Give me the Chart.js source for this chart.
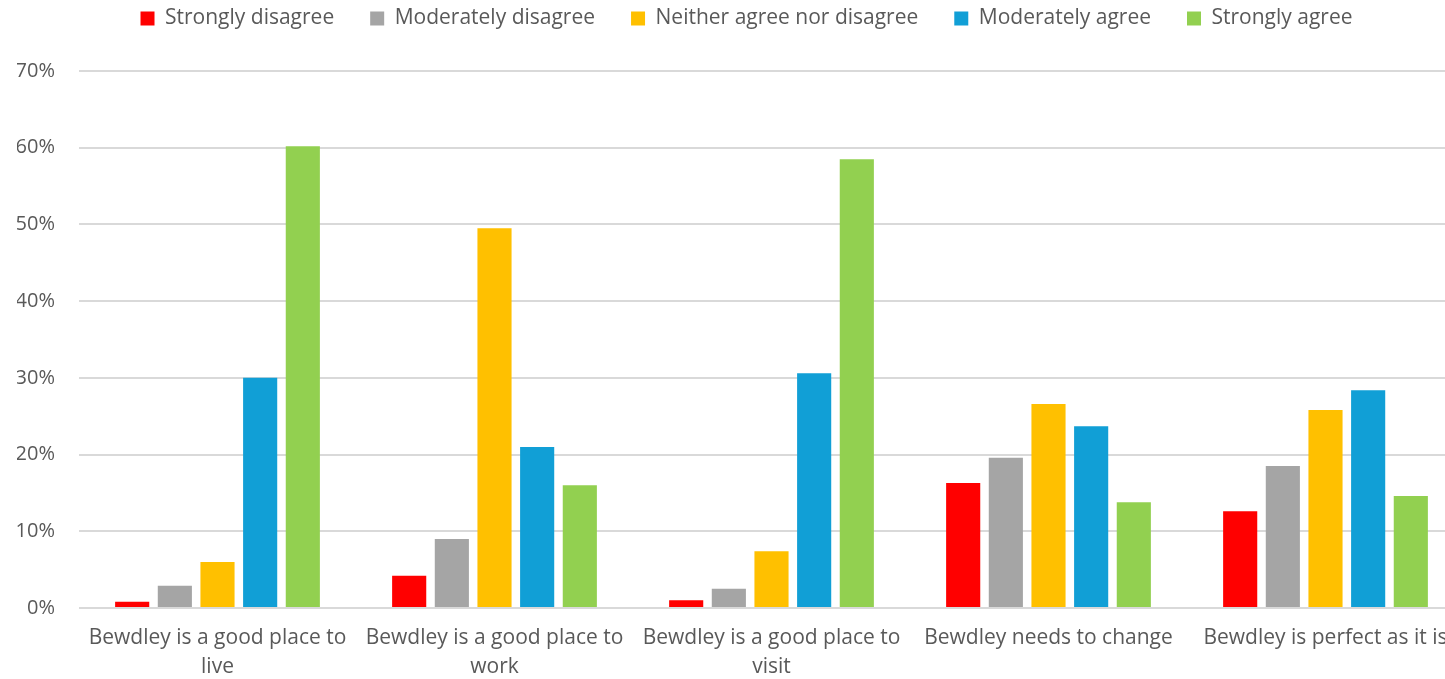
<!DOCTYPE html>
<html>
<head>
<meta charset="utf-8">
<script src="https://cdn.jsdelivr.net/npm/chart.js@4/dist/chart.umd.min.js"></script>
<style>
  html, body { margin: 0; padding: 0; background: #fff; overflow: hidden; }
  #wrap { width: 1464px; height: 679px; position: relative; }
</style>
</head>
<body>
<div id="wrap"><canvas id="c"></canvas></div>
<script>
const categories = [
  ["Bewdley is a good place to", "live"],
  ["Bewdley is a good place to", "work"],
  ["Bewdley is a good place to", "visit"],
  "Bewdley needs to change",
  "Bewdley is perfect as it is"
];
const seriesNames = ["Strongly disagree", "Moderately disagree", "Neither agree nor disagree", "Moderately agree", "Strongly agree"];
const stronglyDisagree   = [0.8, 4.2, 1.0, 16.3, 12.6];
const moderatelyDisagree = [2.9, 9.0, 2.5, 19.6, 18.5];
const neither            = [6.0, 49.5, 7.4, 26.6, 25.8];
const moderatelyAgree    = [30.0, 21.0, 30.6, 23.7, 28.4];
const stronglyAgree      = [60.2, 16.0, 58.5, 13.8, 14.6];
const yTicks = [0, 10, 20, 30, 40, 50, 60, 70];

const colors = ["#FF0000", "#A5A5A5", "#FFC000", "#119FD6", "#92D050"];
const values = [stronglyDisagree, moderatelyDisagree, neither, moderatelyAgree, stronglyAgree];

const legendTweak = {
  id: 'legendTweak',
  beforeInit(chart) {
    const lg = chart.legend;
    const orig = lg.fit;
    lg.fit = function () { orig.call(this); this.height = 99; };
  },
  afterLayout(chart) {
    chart.legend.left += 6;
    chart.legend.right += 6;
  }
};

const ctx = document.getElementById('c');
new Chart(ctx, {
  type: 'bar',
  data: {
    labels: categories,
    datasets: seriesNames.map((n, i) => ({
      label: n,
      data: values[i],
      backgroundColor: colors[i],
      borderWidth: 0,
      categoryPercentage: 0.77,
      barPercentage: 0.8
    }))
  },
  plugins: [legendTweak],
  options: {
    responsive: true,
    maintainAspectRatio: false,
    animation: false,
    layout: { padding: { left: 17, right: 0, top: -28, bottom: 0 } },
    plugins: {
      legend: {
        position: 'top',
        labels: {
          boxWidth: 14, boxHeight: 14,
          color: '#595959',
          font: { family: 'Open Sans', size: 21 },
          padding: 36
        }
      },
      tooltip: { enabled: false }
    },
    scales: {
      x: {
        grid: { display: false, drawTicks: false },
        border: { display: false },
        afterFit: (axis) => { axis.paddingLeft = 0; axis.paddingRight = 0; axis.height = 71; },
        ticks: {
          color: '#595959',
          font: { family: 'Open Sans', size: 21, lineHeight: 1.4 },
          maxRotation: 0, autoSkip: false,
          padding: 15
        }
      },
      y: {
        min: 0, max: 70,
        afterBuildTicks: (axis) => { axis.ticks = yTicks.map(v => ({ value: v })); },
        afterFit: (axis) => { axis.width = 62; axis.paddingTop = 0; axis.paddingBottom = 0; },
        grid: { color: '#D9D9D9', lineWidth: 2, drawTicks: false },
        border: { display: false },
        ticks: {
          color: '#595959',
          font: { family: 'Open Sans', size: 20 },
          padding: 24,
          callback: v => v + '%'
        }
      }
    }
  }
});
</script>
</body>
</html>
